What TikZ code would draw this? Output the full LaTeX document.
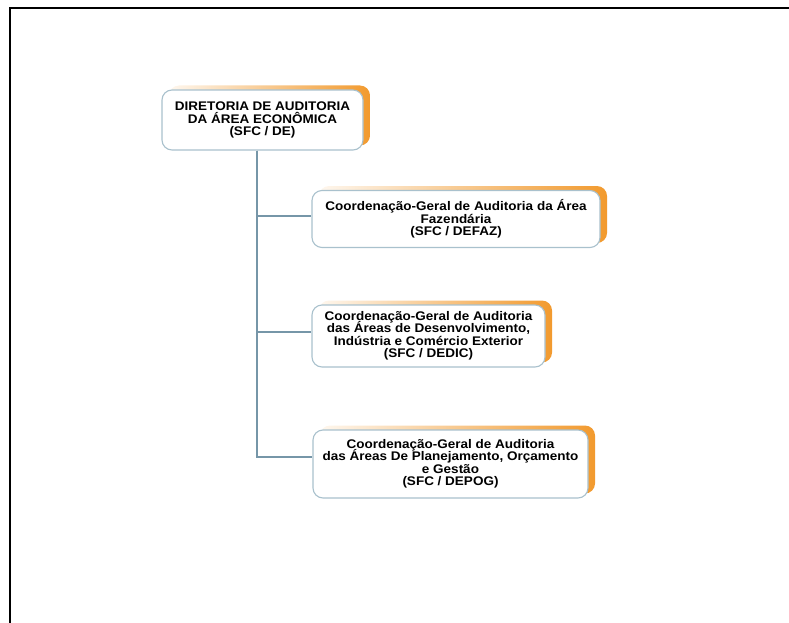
\documentclass[tikz,border=0pt]{standalone}
\usepackage{fontspec}
\setmainfont{Liberation Sans}
\newfontfamily\orgfont[FakeStretch=1.08]{Liberation Sans}
\usetikzlibrary{shadows}
\definecolor{orangeshade}{HTML}{F29A2E}
\definecolor{boxborder}{HTML}{A9C1CD}
\definecolor{treeline}{HTML}{7696A8}
\newcommand{\orgboxfont}{\orgfont\bfseries\fontsize{12.5}{12.5}\selectfont\lineskiplimit=-100pt\relax}
\tikzset{
  orgbox/.style={draw=boxborder,line width=1.1pt,fill=white,rounded corners=10pt,
    align=center,inner sep=0pt,font=\orgboxfont,
    general shadow={shadow xshift=7pt,shadow yshift=4.5pt,left color=orangeshade!8,
      middle color=orangeshade!70,right color=orangeshade}},
  connector/.style={draw=treeline,line width=1.2pt}
}
\begin{document}
\begin{tikzpicture}[x=1pt,y=-1pt]
        \useasboundingbox (0,0) rectangle (789,623);
        %% Frame
        \draw[line width=2pt] (10,623) -- (10,8) -- (789,8);
        %% Boxes
        \node[orgbox,minimum width=201pt,minimum height=60pt] (diretoria) at (262.5,120)
            {DIRETORIA DE AUDITORIA\\DA ÁREA ECONÔMICA\\(SFC / DE)};
        \node[orgbox,minimum width=288pt,minimum height=57pt] (defaz) at (456,219)
            {Coordenação-Geral de Auditoria da Área\\Fazendária\\(SFC / DEFAZ)};
        \node[orgbox,minimum width=233pt,minimum height=62pt] (dedic) at (428.5,336)
            {Coordenação-Geral de Auditoria\\das Áreas de Desenvolvimento,\\Indústria e Comércio Exterior\\(SFC / DEDIC)};
        \node[orgbox,minimum width=275pt,minimum height=68pt] (depog) at (450.5,464)
            {Coordenação-Geral de Auditoria\\das Áreas De Planejamento, Orçamento\\e Gestão\\(SFC / DEPOG)};
        %% Tree
        \coordinate (trunk) at ([xshift=-5.5pt]diretoria.south);
        \draw[connector] (trunk) |- ([yshift=3pt]defaz.west);
        \draw[connector] (trunk) |- ([yshift=4pt]dedic.west);
        \draw[connector] (trunk) |- ([yshift=7pt]depog.west);
\end{tikzpicture}
\end{document}
